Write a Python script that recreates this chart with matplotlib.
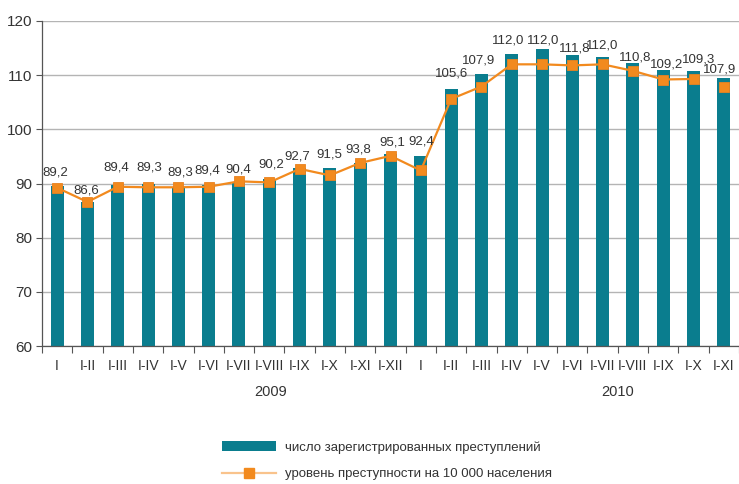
import numpy as np
import matplotlib
matplotlib.use("Agg")
import matplotlib.pyplot as plt
from matplotlib.patches import Patch
from matplotlib.lines import Line2D
from matplotlib.transforms import blended_transform_factory

plt.rcParams['font.family'] = ['Liberation Sans', 'DejaVu Sans']

# Periods (cumulative from January), 2009 then 2010
periods = ['I', 'I-II', 'I-III', 'I-IV', 'I-V', 'I-VI', 'I-VII', 'I-VIII', 'I-IX', 'I-X', 'I-XI', 'I-XII',
           'I', 'I-II', 'I-III', 'I-IV', 'I-V', 'I-VI', 'I-VII', 'I-VIII', 'I-IX', 'I-X', 'I-XI']
years = ['2009', '2010']

# registered crimes (index)
crimes = [89.6, 86.6, 89.7, 90.0, 89.1, 89.8, 90.2, 90.9, 92.8, 92.8, 93.8, 95.4,
          95.1, 107.4, 110.2, 113.9, 114.8, 113.7, 113.3, 112.3, 110.9, 110.7, 109.4]

# crime rate per 10 000 population
rate = [89.2, 86.6, 89.4, 89.3, 89.3, 89.4, 90.4, 90.2, 92.7, 91.5, 93.8, 95.1,
        92.4, 105.6, 107.9, 112.0, 112.0, 111.8, 112.0, 110.8, 109.2, 109.3, 107.9]

# label nudges in pixels (dx, dy) relative to each marker
lbl_dx = [-2, -1, -2, 1, 2, -1, -1, 2, -2, -1, -2, 2, 0, 0, -3, -4, 1, 2, 0, 2, 3, 5, -4]
lbl_dy = [15, 11, 19, 20, 15, 16, 12, 18, 12, 21, 13, 13, 29, 25, 26, 24, 24, 17, 19, 13, 15, 19, 17]

TEAL = '#0a7d8e'
ORANGE = '#f28a1e'
TXT = '#333333'

fig = plt.figure(figsize=(7.39, 4.84), dpi=100)
ax = fig.add_axes([42 / 739, 1 - 346 / 484, 1 - 42 / 739, 325 / 484])

x = np.arange(len(periods))
ax.bar(x, crimes, width=0.43, color=TEAL, zorder=2)
ax.plot(x[:-1], rate[:-1], color=ORANGE, lw=1.6, zorder=3)
ax.plot(x, rate, linestyle='none', marker='s', ms=7.5, color=ORANGE,
        markeredgecolor='#e98220', markeredgewidth=0.6, zorder=4)

for i, v in enumerate(rate):
    ax.annotate(f'{v:.1f}'.replace('.', ','), (x[i], v),
                xytext=(lbl_dx[i], lbl_dy[i]), textcoords='offset pixels',
                ha='center', va='center', fontsize=9.5, color=TXT, zorder=5)

ax.set_xlim(-0.5, len(periods) - 0.5)
ax.set_ylim(60, 120)
ax.set_yticks(np.arange(60, 121, 10))
ax.yaxis.grid(True, color='#b4b4b4', lw=1.0, zorder=0)
ax.set_axisbelow(True)

ax.set_xticks(x)
ax.set_xticklabels(periods)
ax.set_xticks(np.arange(-0.5, len(periods), 1), minor=True)
ax.tick_params(axis='x', which='major', length=0, pad=9, labelsize=10, labelcolor=TXT)
ax.tick_params(axis='x', which='minor', length=5, width=0.8, color='#555555')
ax.tick_params(axis='y', length=4, width=0.8, color='#555555', pad=3, labelsize=11, labelcolor=TXT)

for s in ['top', 'right']:
    ax.spines[s].set_visible(False)
for s in ['left', 'bottom']:
    ax.spines[s].set_color('#555555')
    ax.spines[s].set_linewidth(0.9)

# year captions under the period labels
trans = blended_transform_factory(ax.transData, ax.transAxes)
ax.text(7.06, -0.142, years[0], transform=trans, ha='center', va='center', fontsize=10.5, color=TXT)
ax.text(18.5, -0.142, years[1], transform=trans, ha='center', va='center', fontsize=10.5, color=TXT)

handles = [Patch(facecolor=TEAL, edgecolor='none'),
           Line2D([0], [0], color='#f9c38c', lw=1.6, marker='s', ms=7,
                  markerfacecolor=ORANGE, markeredgecolor=ORANGE)]
labels = ['число зарегистрированных преступлений', 'уровень преступности на 10 000 населения']
fig.legend(handles, labels, loc='upper left', bbox_to_anchor=(222 / 739, 1 - 441 / 484),
           frameon=False, fontsize=9.5, handlelength=4.1, handletextpad=0.65,
           labelspacing=1.1, borderpad=0, borderaxespad=0, labelcolor=TXT)

fig.savefig('out.png', dpi=100)
